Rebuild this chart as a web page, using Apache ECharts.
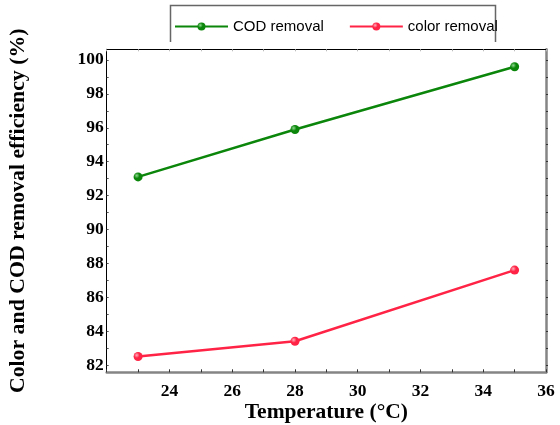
<!DOCTYPE html>
<html>
<head>
<meta charset="utf-8">
<script src="https://cdn.jsdelivr.net/npm/echarts@6/dist/echarts.min.js"></script>
<style>
  html, body { margin: 0; padding: 0; background: #fff; }
  #chart { width: 560px; height: 425px; }
</style>
</head>
<body>
<div id="chart"></div>
<script>
// Operating temperatures (°C)
const temperatures = [23, 28, 35];
// Removal efficiencies (%)
const codRemoval = [93.1, 95.9, 99.6];
const colorRemoval = [82.5, 83.4, 87.6];

// Axis tick values
const xLabelValues = [24, 26, 28, 30, 32, 34, 36];
const xTickValues = [22, 23, 24, 25, 26, 27, 28, 29, 30, 31, 32, 33, 34, 35, 36];
const yLabelValues = [82, 84, 86, 88, 90, 92, 94, 96, 98, 100];
const yTickValues = [82, 83, 84, 85, 86, 87, 88, 89, 90, 91, 92, 93, 94, 95, 96, 97, 98, 99, 100];

const serif = 'Liberation Serif';
const sans = 'Liberation Sans';

function pairs(xs, ys) {
  return xs.map((x, i) => [x, ys[i]]);
}

function ball(base, light) {
  return new echarts.graphic.RadialGradient(0.35, 0.35, 0.7, [
    { offset: 0, color: light },
    { offset: 0.45, color: base },
    { offset: 1, color: base }
  ]);
}

const chart = echarts.init(document.getElementById('chart'), null, { renderer: 'canvas' });

const GREEN = '#0b860b';
const RED = '#ff2445';

chart.setOption({
  animation: false,
  backgroundColor: '#ffffff',
  grid: {
    left: 106.7, right: 14, top: 49.3, bottom: 52.7,
    containLabel: false,
    outerBoundsMode: 'none'
  },
  legend: {
    left: 174,
    top: 19,
    padding: 0,
    itemWidth: 53,
    itemHeight: 10,
    itemGap: 25,
    textStyle: { fontFamily: sans, fontSize: 15, color: '#000', padding: [0, 0, 0, 0] },
    data: ['COD removal', 'color removal']
  },
  graphic: [
    {
      type: 'polyline',
      shape: { points: [[170.5, 42], [170.5, 5.5], [495.5, 5.5], [495.5, 42]] },
      style: { stroke: '#666', lineWidth: 1.5, fill: null },
      silent: true
    }
  ],
  xAxis: [
    {
      type: 'value',
      position: 'bottom',
      min: 22,
      max: 36,
      name: 'Temperature (°C)',
      nameLocation: 'middle',
      nameGap: 29,
      nameMoveOverlap: false,
      nameTextStyle: { fontFamily: serif, fontWeight: 'bold', fontSize: 21.5, color: '#000' },
      axisLine: { show: true, onZero: false, lineStyle: { color: '#858585', width: 2.5 } },
      axisTick: { show: true, inside: true, length: 3, customValues: xTickValues, lineStyle: { color: '#333', width: 1 } },
      axisLabel: { margin: 10, customValues: xLabelValues, fontFamily: serif, fontWeight: 'bold', fontSize: 17.5, color: '#000' },
      splitLine: { show: false }
    },
    {
      type: 'value',
      position: 'top',
      min: 22,
      max: 36,
      axisLine: { show: true, onZero: false, lineStyle: { color: '#000', width: 1 } },
      axisTick: { show: true, inside: true, length: 2, customValues: xTickValues, lineStyle: { color: '#bbb', width: 1 } },
      axisLabel: { show: false },
      splitLine: { show: false }
    }
  ],
  yAxis: [
    {
      type: 'value',
      position: 'left',
      min: 81.57,
      max: 100.63,
      name: 'Color and COD removal efficiency (%)',
      nameLocation: 'middle',
      nameGap: 77,
      nameMoveOverlap: false,
      nameTextStyle: { fontFamily: serif, fontWeight: 'bold', fontSize: 21.8, color: '#000' },
      axisLine: { show: true, onZero: false, lineStyle: { color: '#000', width: 1 } },
      axisTick: { show: true, inside: true, length: 2, customValues: yTickValues, lineStyle: { color: '#555', width: 1 } },
      axisLabel: { margin: 3, customValues: yLabelValues, fontFamily: serif, fontWeight: 'bold', fontSize: 17.5, color: '#000' },
      splitLine: { show: false }
    },
    {
      type: 'value',
      position: 'right',
      min: 81.57,
      max: 100.63,
      axisLine: { show: true, onZero: false, lineStyle: { color: '#858585', width: 2.5 } },
      axisTick: { show: true, inside: false, length: 2, customValues: yTickValues, lineStyle: { color: '#333', width: 1 } },
      axisLabel: { show: false },
      splitLine: { show: false }
    }
  ],
  series: [
    {
      name: 'COD removal',
      type: 'line',
      xAxisIndex: 0,
      yAxisIndex: 0,
      data: pairs(temperatures, codRemoval),
      symbol: 'circle',
      symbolSize: 9,
      lineStyle: { color: GREEN, width: 2.5 },
      itemStyle: { color: ball(GREEN, '#8fd88f') }
    },
    {
      name: 'color removal',
      type: 'line',
      xAxisIndex: 0,
      yAxisIndex: 0,
      data: pairs(temperatures, colorRemoval),
      symbol: 'circle',
      symbolSize: 9,
      lineStyle: { color: RED, width: 2.5 },
      itemStyle: { color: ball(RED, '#ffb0bd') }
    }
  ]
});
</script>
</body>
</html>
